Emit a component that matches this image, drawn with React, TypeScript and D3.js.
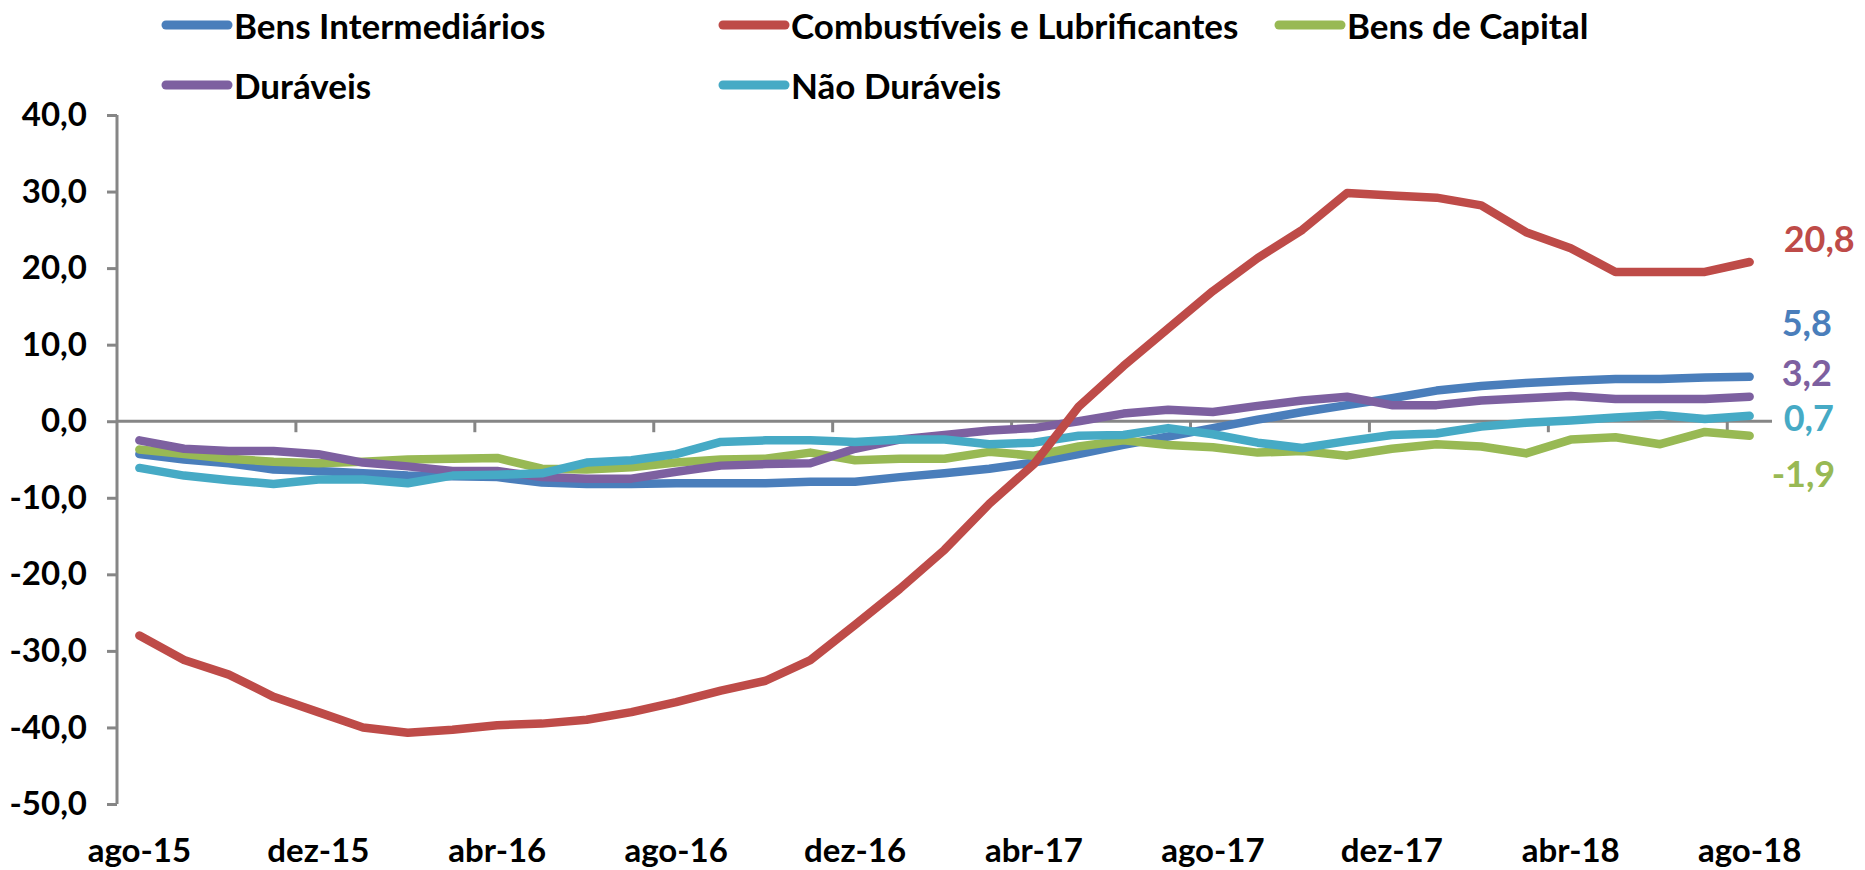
import React, { useEffect, useRef } from 'react';
import * as d3 from 'd3';

// months on the x axis (ago-15 .. ago-18)
const months = [
  'ago-15', 'set-15', 'out-15', 'nov-15', 'dez-15', 'jan-16', 'fev-16', 'mar-16',
  'abr-16', 'mai-16', 'jun-16', 'jul-16', 'ago-16', 'set-16', 'out-16', 'nov-16',
  'dez-16', 'jan-17', 'fev-17', 'mar-17', 'abr-17', 'mai-17', 'jun-17', 'jul-17',
  'ago-17', 'set-17', 'out-17', 'nov-17', 'dez-17', 'jan-18', 'fev-18', 'mar-18',
  'abr-18', 'mai-18', 'jun-18', 'jul-18', 'ago-18',
];

const bensIntermediarios = [
  -4.3, -5.0, -5.5, -6.3, -6.5, -6.8, -7.1, -7.2, -7.3, -8.0, -8.2, -8.2, -8.1,
  -8.1, -8.1, -7.9, -7.9, -7.3, -6.8, -6.2, -5.4, -4.3, -3.1, -2.0, -0.9, 0.2,
  1.2, 2.1, 3.0, 4.0, 4.6, 5.0, 5.3, 5.5, 5.5, 5.7, 5.8,
];

const combustiveis = [
  -28.0, -31.2, -33.1, -36.0, -38.0, -40.0, -40.7, -40.3, -39.7, -39.5, -39.0,
  -38.0, -36.7, -35.2, -33.9, -31.2, -26.6, -21.9, -16.8, -10.8, -5.6, 1.9, 7.2,
  12.1, 17.0, 21.3, 25.0, 29.8, 29.5, 29.2, 28.2, 24.7, 22.6, 19.5, 19.5, 19.5, 20.8,
];

const bensCapital = [
  -3.7, -4.3, -4.9, -5.3, -5.5, -5.3, -5.0, -4.9, -4.8, -6.2, -6.3, -6.0, -5.4,
  -5.0, -4.9, -4.1, -5.1, -4.9, -4.9, -4.0, -4.5, -3.3, -2.5, -3.1, -3.4, -4.1,
  -3.9, -4.5, -3.6, -3.0, -3.3, -4.2, -2.4, -2.1, -3.0, -1.4, -1.9,
];

const duraveis = [
  -2.5, -3.6, -3.9, -3.9, -4.3, -5.4, -5.9, -6.5, -6.5, -7.3, -7.5, -7.5, -6.6,
  -5.8, -5.6, -5.5, -3.6, -2.4, -1.8, -1.2, -0.9, 0.0, 1.0, 1.5, 1.2, 2.0, 2.7,
  3.2, 2.1, 2.1, 2.7, 3.0, 3.3, 2.9, 2.9, 2.9, 3.2,
];

const naoDuraveis = [
  -6.1, -7.1, -7.7, -8.2, -7.6, -7.6, -8.1, -7.1, -7.0, -6.8, -5.4, -5.1, -4.3,
  -2.7, -2.5, -2.5, -2.7, -2.4, -2.4, -3.0, -2.8, -1.9, -1.8, -0.9, -1.7, -2.8,
  -3.5, -2.6, -1.8, -1.6, -0.7, -0.2, 0.1, 0.5, 0.8, 0.3, 0.7,
];

const yTicks = [-50, -40, -30, -20, -10, 0, 10, 20, 30, 40];

// series table (legend order)
const series = [
  { name: 'Bens Intermediários', values: bensIntermediarios, color: '#4a7ebb', labelDx: 32, labelDy: -55, z: 0 },
  { name: 'Combustíveis e Lubrificantes', values: combustiveis, color: '#be4b48', labelDx: 34, labelDy: -24, z: 4 },
  { name: 'Bens de Capital', values: bensCapital, color: '#98b954', labelDx: 22, labelDy: 37, z: 1 },
  { name: 'Duráveis', values: duraveis, color: '#7d60a0', labelDx: 32, labelDy: -25, z: 2 },
  { name: 'Não Duráveis', values: naoDuraveis, color: '#46aac5', labelDx: 34, labelDy: 1, z: 3 },
];

const W = 1865;
const H = 870;
const FONT = 'Lato, "Open Sans", sans-serif';

const ptBR = d3.formatLocale({
  decimal: ',',
  thousands: '.',
  grouping: [3],
  currency: ['R$', ''],
  minus: '-',
});
const fmt = ptBR.format('.1f');

const App = () => {
  const ref = useRef<SVGSVGElement>(null);

  useEffect(() => {
    const svg = d3.select(ref.current);
    svg.selectAll('*').remove();

    // plot area
    const left = 117;
    const right = 1772;
    const top = 115;
    const bottom = 804;

    const x = d3.scaleBand<string>().domain(months).range([left, right]).paddingInner(0).paddingOuter(0);
    const y = d3.scaleLinear().domain([-50, 40]).range([bottom, top]);
    const cx = (m: string) => (x(m) as number) + x.bandwidth() / 2;

    const axisColor = '#868686';

    // y axis
    const yAxis = svg
      .append('g')
      .attr('transform', `translate(${left},0)`)
      .call(d3.axisLeft(y).tickValues(yTicks).tickSize(10).tickPadding(20).tickFormat((d) => fmt(d as number)));
    yAxis.select('.domain').attr('stroke', axisColor).attr('stroke-width', 3).attr('d', `M0,${top}V${bottom}`);
    yAxis.selectAll('.tick line').attr('stroke', axisColor).attr('stroke-width', 3);
    yAxis
      .selectAll('.tick text')
      .attr('font-family', FONT)
      .attr('font-weight', 700)
      .attr('font-size', 33)
      .attr('fill', '#000');

    // horizontal axis on zero
    const y0 = y(0);
    svg
      .append('line')
      .attr('x1', left)
      .attr('x2', right)
      .attr('y1', y0)
      .attr('y2', y0)
      .attr('stroke', axisColor)
      .attr('stroke-width', 3);

    const every4 = months.filter((_, i) => i % 4 === 0);
    svg
      .append('g')
      .selectAll('line')
      .data(every4.slice(1))
      .join('line')
      .attr('x1', (d) => x(d) as number)
      .attr('x2', (d) => x(d) as number)
      .attr('y1', y0)
      .attr('y2', y0 + 11)
      .attr('stroke', axisColor)
      .attr('stroke-width', 3);

    // category labels at the bottom
    svg
      .append('g')
      .selectAll('text')
      .data(every4)
      .join('text')
      .attr('x', (d) => cx(d))
      .attr('y', 862)
      .attr('text-anchor', 'middle')
      .attr('font-family', FONT)
      .attr('font-weight', 700)
      .attr('font-size', 33)
      .text((d) => d);

    // lines
    const line = d3
      .line<number>()
      .x((_, i) => cx(months[i]))
      .y((d) => y(d));

    const drawOrder = [...series].sort((a, b) => a.z - b.z);
    svg
      .append('g')
      .selectAll('path')
      .data(drawOrder)
      .join('path')
      .attr('d', (d) => line(d.values))
      .attr('fill', 'none')
      .attr('stroke', (d) => d.color)
      .attr('stroke-width', 8.5)
      .attr('stroke-linejoin', 'round')
      .attr('stroke-linecap', 'round');

    // end labels
    const last = months[months.length - 1];
    svg
      .append('g')
      .selectAll('text')
      .data(series)
      .join('text')
      .attr('x', (d) => cx(last) + d.labelDx)
      .attr('y', (d) => y(d.values[d.values.length - 1]) + d.labelDy)
      .attr('dominant-baseline', 'central')
      .attr('font-family', FONT)
      .attr('font-weight', 700)
      .attr('font-size', 36)
      .attr('fill', (d) => d.color)
      .text((d) => fmt(d.values[d.values.length - 1]));

    // legend, 3 columns x 2 rows
    const colX = [166, 723, 1279];
    const rowY = [25, 85];
    const legend = svg
      .append('g')
      .selectAll('g')
      .data(series)
      .join('g')
      .attr('transform', (_, i) => `translate(${colX[i % 3]},${rowY[Math.floor(i / 3)]})`);
    legend
      .append('line')
      .attr('x1', 0)
      .attr('x2', 62)
      .attr('stroke', (d) => d.color)
      .attr('stroke-width', 9)
      .attr('stroke-linecap', 'round');
    legend
      .append('text')
      .attr('x', 68)
      .attr('dominant-baseline', 'central')
      .attr('font-family', FONT)
      .attr('font-weight', 700)
      .attr('font-size', 35)
      .text((d) => d.name);
  }, []);

  return (
    <svg
      ref={ref}
      width={W}
      height={H}
      style={{ position: 'absolute', left: 0, top: 0, background: '#fff' }}
    ></svg>
  );
};

export default App;
